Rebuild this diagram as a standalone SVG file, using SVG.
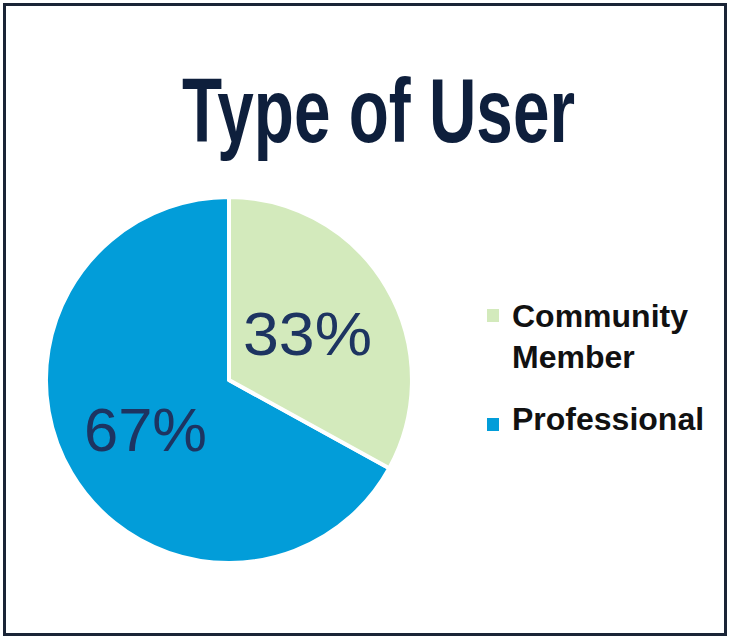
<svg xmlns="http://www.w3.org/2000/svg" width="730" height="639" viewBox="0 0 730 639">
<style>
.pct{font-family:"Liberation Sans",Arial,sans-serif;font-size:61px;fill:#1d3461}
.leg{font-family:"Liberation Sans",Arial,sans-serif;font-size:32px;font-weight:bold;fill:#111}
</style>
<rect x="0" y="0" width="730" height="639" fill="#fff"/>
<rect x="4.5" y="4.5" width="721" height="630" fill="#fff" stroke="#1a2436" stroke-width="3"/>
<text id="title" x="182" y="142" textLength="393" lengthAdjust="spacingAndGlyphs" style="font-family:'Liberation Sans',Arial,sans-serif;font-size:90px;font-weight:bold;fill:#0e1f3c">Type of User</text>
<g id="pie">
<g id="slice-professional">
<path d="M229,380 L389.3,468.2 A183,183 0 1 1 229,197 Z" fill="#029dd9" stroke="#fff" stroke-width="4" stroke-linejoin="round"/>
<text class="pct" x="84" y="451" textLength="123" lengthAdjust="spacingAndGlyphs">67%</text>
</g>
<g id="slice-community">
<path d="M229,380 L229,197 A183,183 0 0 1 389.3,468.2 Z" fill="#d3eabc" stroke="#fff" stroke-width="4" stroke-linejoin="round"/>
<text class="pct" x="243" y="355" textLength="129" lengthAdjust="spacingAndGlyphs">33%</text>
</g>
</g>
<g id="legend">
<g id="legend-community">
<rect x="487" y="309" width="12" height="13" fill="#d3eabc"/>
<text class="leg" x="512" y="327">Community</text>
<text class="leg" x="512" y="368">Member</text>
</g>
<g id="legend-professional">
<rect x="487" y="418" width="12" height="13" fill="#029dd9"/>
<text class="leg" x="512" y="430">Professional</text>
</g>
</g>
<g id="connectors"/>
</svg>
